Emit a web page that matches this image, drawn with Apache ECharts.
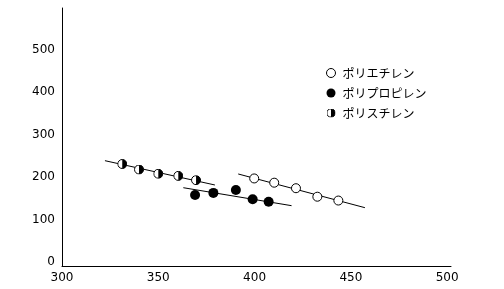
<!DOCTYPE html>
<html><head><meta charset="utf-8">
<script src="https://cdn.jsdelivr.net/npm/echarts@6/dist/echarts.min.js"></script>
<style>html,body{margin:0;padding:0;background:#fff}#c{width:504px;height:289px}</style>
</head><body><div id="c"></div>
<script>
// ---- data ----
const seriesNames = ['ポリエチレン', 'ポリプロピレン', 'ポリスチレン'];
const xTickLabels = [300, 350, 400, 450, 500];
const yTickLabels = [0, 100, 200, 300, 400, 500];

const peX = [399.8, 410.2, 421.5, 432.6, 443.5];
const peY = [206, 196, 183, 163, 154];
const ppX = [369.1, 378.6, 390.3, 399.0, 407.3];
const ppY = [167, 172, 179, 157, 151];
const psX = [331.3, 340.0, 350.0, 360.4, 369.6];
const psY = [240, 227, 217, 212, 202];

// fitted line end points
const peLineX = [391.5, 457.3], peLineY = [216.5, 137.2];
const ppLineX = [363.0, 419.2], ppLineY = [184.2, 141.9];
const psLineX = [322.3, 379.4], psLineY = [247.8, 190.6];

const zip = (a, b) => a.map((v, i) => [v, b[i]]);

const halfSvg = '<svg xmlns="http://www.w3.org/2000/svg" width="20" height="20" viewBox="0 0 20 20">' +
  '<circle cx="10" cy="10" r="9" fill="#fff" stroke="#000" stroke-width="2"/>' +
  '<path d="M10 1 A9 9 0 0 1 10 19 Z" fill="#000"/></svg>';
const halfSymbol = 'image://data:image/svg+xml;charset=utf-8,' + encodeURIComponent(halfSvg);

const lineStyle = { color: '#000', width: 1 };
const lineSeries = (x, y) => ({
  type: 'line', data: zip(x, y), symbol: 'none', silent: true,
  lineStyle, z: 1, legendHoverLink: false
});

const chart = echarts.init(document.getElementById('c'), null, { renderer: 'canvas' });
chart.setOption({
  animation: false,
  backgroundColor: '#fff',
  textStyle: { fontFamily: 'DejaVu Sans' },
  grid: { left: 62, right: 53, top: 8, bottom: 23 },
  legend: {
    data: [
      { name: seriesNames[0], itemStyle: { color: '#fff', borderColor: '#000', borderWidth: 1 } },
      { name: seriesNames[1] },
      { name: seriesNames[2] }
    ],
    orient: 'vertical',
    left: 321, top: 62,
    itemWidth: 9, itemHeight: 9, itemGap: 8,
    textStyle: { fontFamily: 'Noto Sans CJK JP', fontSize: 12, color: '#000', padding: [0, 0, 0, 2] }
  },
  xAxis: {
    type: 'value', min: 300, max: 502, interval: 50,
    axisLine: { show: true, lineStyle: { color: '#000', width: 1 } },
    axisTick: { show: false }, splitLine: { show: false },
    axisLabel: {
      margin: 6, color: '#000', fontSize: 12, fontFamily: 'DejaVu Sans',
      formatter: v => xTickLabels.includes(v) ? String(v) : ''
    }
  },
  yAxis: {
    type: 'value', min: 0, max: 607, interval: 100,
    axisLine: { show: true, lineStyle: { color: '#000', width: 1 } },
    axisTick: { show: false }, splitLine: { show: false },
    axisLabel: {
      margin: 7, color: '#000', fontSize: 12, fontFamily: 'DejaVu Sans',
      verticalAlign: 'bottom', lineHeight: 8,
      formatter: v => yTickLabels.includes(v) ? String(v) : ''
    }
  },
  series: [
    lineSeries(peLineX, peLineY),
    lineSeries(ppLineX, ppLineY),
    lineSeries(psLineX, psLineY),
    { name: seriesNames[0], type: 'scatter', data: zip(peX, peY), symbol: 'circle', symbolSize: 9, z: 3,
      itemStyle: { color: '#fff', borderColor: '#000', borderWidth: 1, opacity: 1 } },
    { name: seriesNames[1], type: 'scatter', data: zip(ppX, ppY), symbol: 'circle', symbolSize: 10, z: 3,
      itemStyle: { color: '#000', borderColor: '#000', borderWidth: 0, opacity: 1 } },
    { name: seriesNames[2], type: 'scatter', data: zip(psX, psY), symbol: halfSymbol, symbolSize: 10, z: 3,
      itemStyle: { color: '#000', opacity: 1 } }
  ]
});
</script></body></html>
